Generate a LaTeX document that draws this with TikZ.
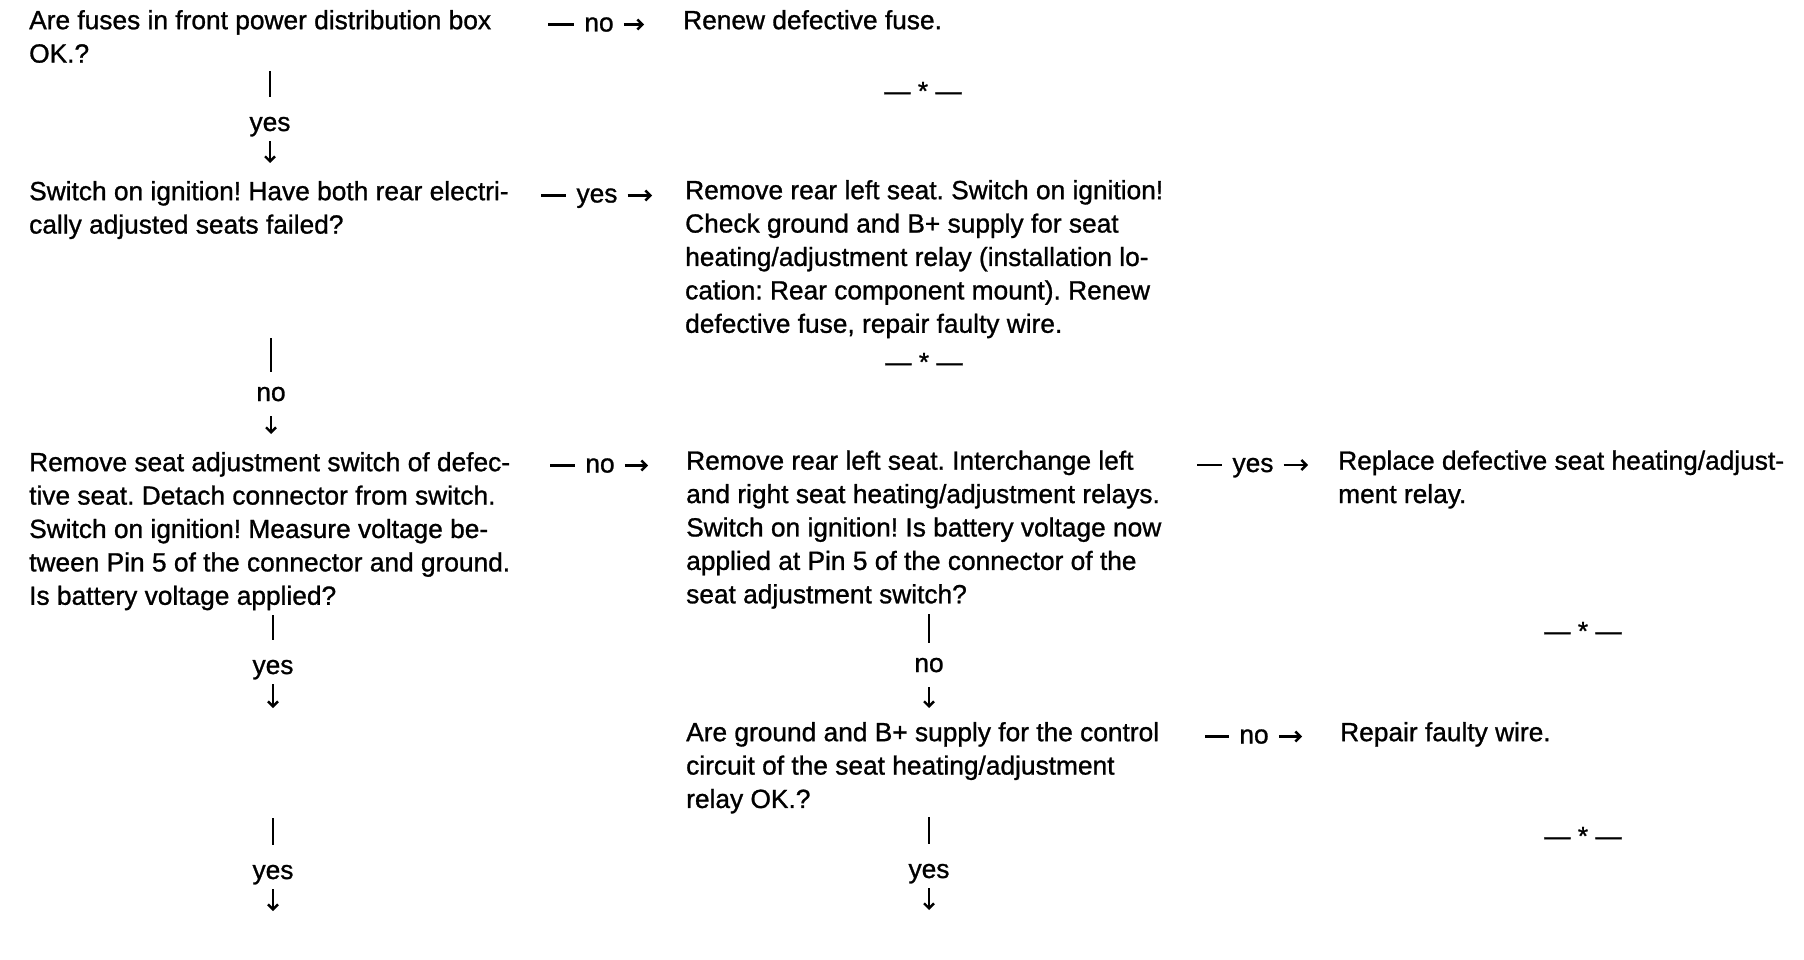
\documentclass[tikz,border=0pt]{standalone}
\usepackage{fontspec}
\setmainfont{Liberation Sans}[FakeBold=1.0]
\usetikzlibrary{arrows.meta}
\begin{document}
\frenchspacing
\begin{tikzpicture}[x=1pt,y=-1pt,
  every node/.style={font=\fontsize{26.3}{33.4}\selectfont\frenchspacing},
  txt/.style={anchor=north west, align=left, inner sep=0pt},
  hlbl/.style={anchor=base, inner xsep=10pt, inner ysep=0pt, text height=14pt, text depth=0pt},
  vlbl/.style={anchor=base, inner xsep=0pt, inner ysep=15pt, text height=14pt, text depth=0pt},
  vyes/.style={anchor=base, inner xsep=0pt, inner ysep=10pt, text height=24pt, text depth=0pt},
  endmark/.style={anchor=base, inner sep=0pt},
  conn/.style={line width=2.4pt},
  arr/.style={conn, -{Straight Barb[length=5pt,width=10pt]}}
]
\useasboundingbox (0,0) rectangle (1804,960);

% ---- text nodes ----
\node[txt] (q1) at (29,5.6) {\strut Are fuses in front power distribution box\\OK.?};
\node[txt] (q2) at (29,176.6) {\strut Switch on ignition! Have both rear electri-\\cally adjusted seats failed?};
\node[txt] (q3) at (29,447.6) {\strut Remove seat adjustment switch of defec-\\tive seat. Detach connector from switch.\\Switch on ignition! Measure voltage be-\\tween Pin 5 of the connector and ground.\\Is battery voltage applied?};
\node[txt] (r1) at (683,5.6) {\strut Renew defective fuse.};
\node[txt] (r2) at (685,175.6) {\strut Remove rear left seat. Switch on ignition!\\Check ground and B+ supply for seat\\heating/adjustment relay (installation lo-\\cation: Rear component mount). Renew\\defective fuse, repair faulty wire.};
\node[txt] (q4) at (686,446.1) {\strut Remove rear left seat. Interchange left\\and right seat heating/adjustment relays.\\Switch on ignition! Is battery voltage now\\applied at Pin 5 of the connector of the\\seat adjustment switch?};
\node[txt] (q5) at (686,717.6) {\strut Are ground and B+ supply for the control\\circuit of the seat heating/adjustment\\relay OK.?};
\node[txt] (r3) at (1338,446.1) {\strut Replace defective seat heating/adjust-\\ment relay.};
\node[txt] (r4) at (1340,717.6) {\strut Repair faulty wire.};

% ---- end marks ----
\node[endmark] (e1) at (923,100) {— * —};
\node[endmark] (e2) at (924,371) {— * —};
\node[endmark] (e3) at (1583,640) {— * —};
\node[endmark] (e4) at (1583,845) {— * —};

% ---- horizontal connectors ----
\node[hlbl] (h1l) at (599,31.5) {no};
\coordinate (h1a) at (548,24.5); \coordinate (h1b) at (644,24.5);
\draw[conn] (h1a) -- (h1l); \draw[arr] (h1l) -- (h1b);

\node[hlbl] (h2l) at (597,202.5) {yes};
\coordinate (h2a) at (541,195.5); \coordinate (h2b) at (652,195.5);
\draw[conn] (h2a) -- (h2l); \draw[arr] (h2l) -- (h2b);

\node[hlbl] (h3l) at (600,472.5) {no};
\coordinate (h3a) at (550,465.5); \coordinate (h3b) at (648,465.5);
\draw[conn] (h3a) -- (h3l); \draw[arr] (h3l) -- (h3b);

\node[hlbl] (h4l) at (1253,472) {yes};
\coordinate (h4a) at (1197,465); \coordinate (h4b) at (1308,465);
\draw[conn] (h4a) -- (h4l); \draw[arr] (h4l) -- (h4b);

\node[hlbl] (h5l) at (1254,743.5) {no};
\coordinate (h5a) at (1205,736.5); \coordinate (h5b) at (1302,736.5);
\draw[conn] (h5a) -- (h5l); \draw[arr] (h5l) -- (h5b);

% ---- vertical connectors ----
\node[vyes] (v1l) at (270,131) {yes};
\coordinate (v1a) at (270,71); \coordinate (v1b) at (270,163);
\draw[conn] (v1a) -- (v1l); \draw[arr] (v1l) -- (v1b);

\node[vlbl] (v2l) at (271,401) {no};
\coordinate (v2a) at (271,338); \coordinate (v2b) at (271,434);
\draw[conn] (v2a) -- (v2l); \draw[arr] (v2l) -- (v2b);

\node[vyes] (v3l) at (273,674) {yes};
\coordinate (v3a) at (273,615); \coordinate (v3b) at (273,708);
\draw[conn] (v3a) -- (v3l); \draw[arr] (v3l) -- (v3b);

\node[vyes] (v4l) at (273,879) {yes};
\coordinate (v4a) at (273,818); \coordinate (v4b) at (273,911);
\draw[conn] (v4a) -- (v4l); \draw[arr] (v4l) -- (v4b);

\node[vlbl] (v5l) at (929,672) {no};
\coordinate (v5a) at (929,614); \coordinate (v5b) at (929,708);
\draw[conn] (v5a) -- (v5l); \draw[arr] (v5l) -- (v5b);

\node[vyes] (v6l) at (929,878) {yes};
\coordinate (v6a) at (929,817); \coordinate (v6b) at (929,910);
\draw[conn] (v6a) -- (v6l); \draw[arr] (v6l) -- (v6b);
\end{tikzpicture}
\end{document}
